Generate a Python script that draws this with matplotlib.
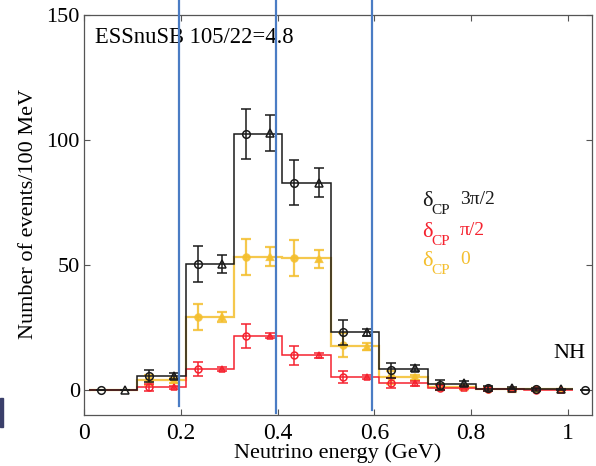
import matplotlib
matplotlib.use("Agg")
import matplotlib.pyplot as plt
from matplotlib.patches import Rectangle

plt.rcParams['font.family'] = ['Liberation Serif', 'DejaVu Serif']

# Histogram bin edges (GeV), 100 MeV bins
edges = [0.01, 0.11, 0.21, 0.31, 0.41, 0.51, 0.61, 0.71, 0.81, 0.91, 1.01]

# Step heights per bin
black_steps = [0, 5.8, 50.4, 102.4, 82.9, 23.1, 8.3, 2.4, 0.6, 0.4]
yellow_steps = [0, 4.0, 29.3, 53.3, 52.7, 17.6, 5.1, 1.3, 0.5, 0.3]
red_steps = [0, 1.1, 8.4, 21.7, 13.9, 5.3, 2.7, 0.9, 0.3, 0.2]

# Sub-bin sample points (circles and triangles)
circ_x = [0.035, 0.135, 0.235, 0.335, 0.435, 0.535, 0.635, 0.735, 0.835, 0.935, 1.035]
tri_x = [0.085, 0.185, 0.285, 0.385, 0.485, 0.585, 0.685, 0.785, 0.885, 0.985]

black_circ = [0, 5.6, 50.4, 102.3, 82.9, 23.1, 8.0, 2.0, 0.7, 0.3, 0.0]
black_circ_err = [0, 2.5, 7.1, 10.0, 9.0, 5.0, 3.0, 2.0, 1.0, 0.6, 0.0]
black_tri = [0, 5.7, 50.4, 102.7, 82.9, 23.1, 8.7, 2.7, 0.8, 0.3]
black_tri_err = [0, 1.2, 3.5, 7.2, 5.7, 1.5, 1.2, 1.0, 0.5, 0.3]

yellow_circ = [4.0, 29.3, 53.3, 52.9, 17.9, 5.1, 1.2, 0.5, 0.3]
yellow_circ_err = [2.0, 5.2, 7.3, 7.2, 4.8, 2.5, 1.2, 0.6, 0.4]
yellow_tri = [4.0, 29.3, 53.3, 52.5, 17.4, 5.1, 1.4, 0.5, 0.3]
yellow_tri_err = [1.0, 2.0, 3.8, 3.7, 1.5, 1.0, 0.6, 0.3, 0.2]

red_circ = [1.1, 8.4, 21.7, 13.9, 5.3, 2.7, 0.9, 0.3, 0.2]
red_circ_err = [1.5, 2.9, 4.7, 3.9, 2.4, 2.0, 1.0, 0.5, 0.3]
red_tri = [1.1, 8.4, 21.7, 13.9, 5.3, 2.7, 0.9, 0.3, 0.2]
red_tri_err = [0.5, 0.8, 1.0, 1.0, 0.8, 1.0, 0.6, 0.3, 0.2]

# Energy cuts marked with vertical lines
cut_energies = [0.197, 0.397, 0.596]
cut_bottoms = [-6.3, -9.2, -8.0]

xticks = [0, 0.2, 0.4, 0.6, 0.8, 1]
xticklabels = ['0', '0.2', '0.4', '0.6', '0.8', '1']
yticks = [0, 50, 100, 150]

BLACK = '#1a1a1a'
RED = '#f5222f'
YELLOW = '#f4bf2e'
BLUE = '#4a7cc4'

fig = plt.figure(figsize=(5.96, 4.66), dpi=100)
W, H = 596, 466
ax = fig.add_axes([84 / W, 1 - 415 / H, (592 - 84) / W, (415 - 15) / H])


def draw_series(steps, cx, cy, cerr, tx, ty, terr, color, lw, ms, filled, z, alpha=1.0):
    ax.stairs(steps, edges, baseline=None, color=color, lw=lw, zorder=z, alpha=alpha)
    fc = color if filled else 'none'
    ax.errorbar(cx, cy, yerr=cerr, fmt='o', ms=ms, mfc=fc, mec=color, mew=lw,
                ecolor=color, elinewidth=lw, capsize=3.5, capthick=lw, zorder=z,
                alpha=alpha)
    ax.errorbar(tx, ty, yerr=terr, fmt='^', ms=ms, mfc=fc, mec=color, mew=lw,
                ecolor=color, elinewidth=lw, capsize=3.5, capthick=lw, zorder=z,
                alpha=alpha)


draw_series(red_steps, circ_x[1:10], red_circ, red_circ_err,
            tri_x[1:], red_tri, red_tri_err, RED, 1.1, 5, False, 3)
draw_series(yellow_steps, circ_x[1:10], yellow_circ, yellow_circ_err,
            tri_x[1:], yellow_tri, yellow_tri_err, YELLOW, 1.6, 4.5, True, 2, alpha=0.85)
draw_series(black_steps, circ_x, black_circ, black_circ_err,
            tri_x, black_tri, black_tri_err, BLACK, 1.1, 5.5, False, 4)

ax.set_xlim(0, 1.05)
ax.set_ylim(-10, 150)
ax.set_xticks(xticks)
ax.set_xticklabels(xticklabels)
ax.set_yticks(yticks)
ax.tick_params(axis='both', direction='in', top=True, right=True, length=4,
               width=0.8, color='#555555')
ax.tick_params(axis='x', labelsize=17, pad=6)
ax.tick_params(axis='y', labelsize=16, pad=3)
for s in ax.spines.values():
    s.set_color('#555555')
    s.set_linewidth(0.9)

fig.text(29 / W, 1 - 214 / H, 'Number of events/100 MeV', rotation=90,
         ha='center', va='center', fontsize=16)
fig.text(338 / W, 1 - 453 / H, 'Neutrino energy (GeV)', ha='center',
         va='center', fontsize=16)

ax.text(95 / W, 1 - 43 / H, 'ESSnuSB 105/22=4.8', transform=fig.transFigure,
        ha='left', va='baseline', fontsize=16.3)
ax.text(585 / W, 1 - 358 / H, 'NH', transform=fig.transFigure,
        ha='right', va='baseline', fontsize=16)

# delta_CP labels
labels = [('3\u03c0/2', BLACK, 206), ('\u03c0/2', RED, 237), ('0', YELLOW, 266)]
for val, col, base in labels:
    fig.text(422 / W, 1 - base / H, '\u03b4', color=col, fontsize=16, va='baseline')
    fig.text(431 / W, 1 - (base + 8) / H, 'CP', color=col, fontsize=11, va='baseline')
    fig.text(460 / W, 1 - (base - 2) / H, val, color=col, fontsize=14, va='baseline')

# energy cut lines
for e, yb in zip(cut_energies, cut_bottoms):
    ax.plot([e, e], [yb, 157], color=BLUE, lw=1.6, clip_on=False, zorder=6)

# small fragment at the left edge
fig.patches.append(Rectangle((0, 1 - 427 / H), 3 / W, 29 / H,
                             transform=fig.transFigure, color='#3a3f6a'))

fig.savefig('out.png', dpi=100)
